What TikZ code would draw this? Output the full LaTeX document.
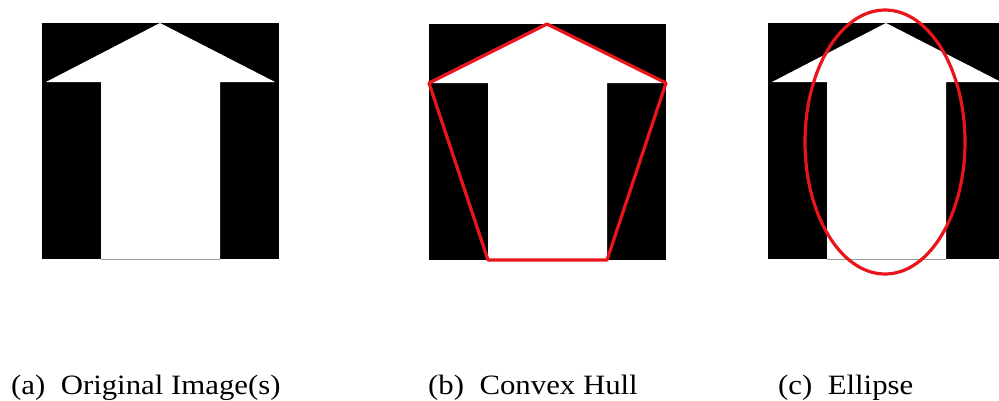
\documentclass[tikz,border=0pt]{standalone}
\usepackage{fontspec}
\setmainfont{Liberation Serif}
\usetikzlibrary{positioning}
\definecolor{fitred}{RGB}{232,22,28}
\definecolor{edgegray}{HTML}{9A9A9A}

\begin{document}
\begin{tikzpicture}[x=1pt, y=-1pt,
  subcap/.style={anchor=base west, inner sep=0pt, font=\fontsize{28}{34}\selectfont},
  fitline/.style={draw=fitred, line width=3.2pt, line join=round},
  arrowimg/.pic={
    \fill[black] (0,0) rectangle (237,236);
    \fill[white] (118,0) -- (237-#1,59) -- (178,59) -- (178,236)
      -- (59,236) -- (59,59) -- (#1,59) -- cycle;
    \draw[edgegray, line width=1pt] (59,236) -- (178,236);
    \coordinate (-tip) at (118,0);
    \coordinate (-wl) at (#1,59);
    \coordinate (-wr) at (237-#1,59);
    \coordinate (-bl) at (59,236);
    \coordinate (-br) at (178,236);
    \coordinate (-mid) at (117,119);
  }]
\useasboundingbox (0,0) rectangle (999,400);

% the three images
\pic (p1) at (42,23) {arrowimg=4};
\pic (p2) at (429,24) {arrowimg=0};
\pic (p3) at (768,23) {arrowimg=4};

% fitted shapes
\draw[fitline] (p2-tip) -- (p2-wr) -- (p2-br) -- (p2-bl) -- (p2-wl) -- cycle;
\draw[fitline] (p3-mid) ellipse [x radius=80, y radius=132];

% captions
\node[subcap] (capa) at (11,394) {\scalebox{1.1}[1]{(a)\hspace{0.5em}Original Image(s)}};
\node[subcap] (capb) at (428,394) {\scalebox{1.1}[1]{(b)\hspace{0.5em}Convex Hull}};
\node[subcap] (capc) at (778,394) {\scalebox{1.1}[1]{(c)\hspace{0.5em}Ellipse}};
\end{tikzpicture}
\end{document}
